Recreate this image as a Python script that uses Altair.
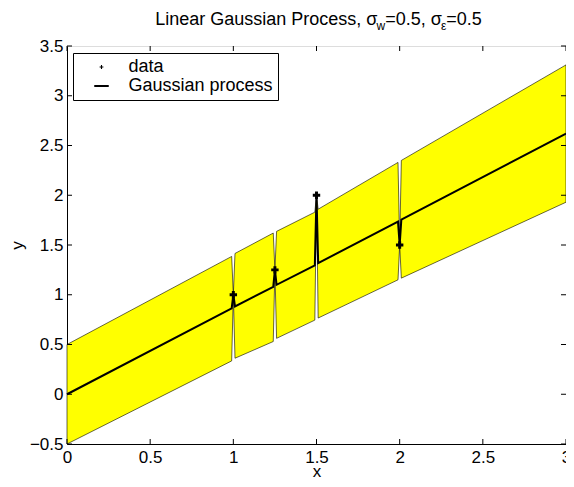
import altair as alt
import pandas as pd

# ---- data ----
band_x = [0.0, 0.99, 1.0, 1.01, 1.24, 1.25, 1.26, 1.49, 1.5, 1.51, 1.99, 2.0, 2.01, 3.0]
band_upper = [0.50, 1.385, 1.0, 1.415, 1.62, 1.25, 1.637, 1.83, 2.0, 1.86, 2.33, 1.5, 2.35, 3.31]
band_lower = [-0.50, 0.335, 1.0, 0.362, 0.53, 1.25, 0.562, 0.745, 2.0, 0.766, 1.15, 1.5, 1.167, 1.93]
gp_mean = [0.0, 0.862, 1.0, 0.882, 1.08, 1.25, 1.10, 1.295, 2.0, 1.318, 1.735, 1.5, 1.755, 2.62]
data_x = [1.0, 1.25, 1.5, 2.0]
data_y = [1.0, 1.25, 2.0, 1.5]
x_ticks = [0, 0.5, 1, 1.5, 2, 2.5, 3]
y_ticks = [-0.5, 0, 0.5, 1, 1.5, 2, 2.5, 3, 3.5]
series_names = ["data", "Gaussian process"]
title_main = "Linear Gaussian Process, σ"
title_sub1 = "w"
title_mid = "=0.5, σ"
title_sub2 = "ε"
title_end = "=0.5"

W, H = 499, 398
FONT = "Liberation Sans"
FS = 17
TFS, SFS = 18, 12

band_df = pd.DataFrame({"x": band_x, "lo": band_lower, "hi": band_upper, "mean": gp_mean,
                        "series": series_names[1]})
data_df = pd.DataFrame({"x": data_x, "y": data_y, "series": series_names[0]})
xt_df = pd.DataFrame({"v": x_ticks})
yt_df = pd.DataFrame({"v": y_ticks})

xscale = alt.Scale(domain=[0, 3], nice=False, zero=False)
yscale = alt.Scale(domain=[-0.5, 3.5], nice=False, zero=False)
cscale = alt.Scale(domain=series_names, range=["black", "black"])

common_axis = dict(grid=False, ticks=False, tickSize=0, labelFontSize=FS, labelFont=FONT,
                   labelColor="black", titleFontSize=FS, titleFont=FONT, titleFontWeight="normal",
                   titleColor="black", domainColor="black", domainWidth=1, format="~g",
                   labelFlush=False, labelOverlap=False)
xaxis = alt.Axis(values=x_ticks, labelPadding=5, titleY=19, titleBaseline="top", **common_axis)
yaxis = alt.Axis(values=y_ticks, labelPadding=4, titleX=-41, titleY=H / 2, **common_axis)

X = lambda f: alt.X(f, scale=xscale, axis=xaxis, title="x")
Y = lambda f: alt.Y(f, scale=yscale, axis=yaxis, title="y")

CROSS_PATH = "M-0.38,-0.11H0.38V0.11H-0.38Z M-0.11,-0.38H0.11V0.38H-0.11Z"
LINE_PATH = "M-1.45,0H1.45"
legend = alt.Legend(
    orient="none", legendX=6, legendY=7, title=None,
    fillColor="white", strokeColor="black",
    padding=5, symbolSize=100, symbolOffset=14.5, labelOffset=18,
    labelFontSize=18, labelFont=FONT, labelColor="black", rowPadding=1,
    symbolStrokeColor="black", symbolFillColor="black", symbolOpacity=1,
    symbolType=alt.ExprRef(expr=f"datum.value === 'data' ? '{CROSS_PATH}' : '{LINE_PATH}'"),
    symbolStrokeWidth=alt.ExprRef(expr="datum.value === 'data' ? 0 : 2"),
)
color = alt.Color("series:N", scale=cscale, legend=legend)

band = alt.Chart(band_df).mark_area(fill="#FFFF00", stroke="black", strokeWidth=0.6, opacity=1).encode(
    x=X("x:Q"), y=Y("lo:Q"), y2="hi:Q")

line = alt.Chart(band_df).mark_line(strokeWidth=2).encode(
    x=X("x:Q"), y=Y("mean:Q"), color=color)

pts = alt.Chart(data_df).mark_point(shape="cross", filled=True, size=55, opacity=1).encode(
    x=X("x:Q"), y=Y("y:Q"), color=color)

tick = dict(color="black", strokeWidth=1)
xt_b = alt.Chart(xt_df).mark_rule(**tick).encode(x=X("v:Q"), y=alt.value(H), y2=alt.value(H - 5))
xt_t = alt.Chart(xt_df).mark_rule(**tick).encode(x=X("v:Q"), y=alt.value(0), y2=alt.value(5))
yt_l = alt.Chart(yt_df).mark_rule(**tick).encode(y=Y("v:Q"), x=alt.value(0), x2=alt.value(5))
yt_r = alt.Chart(yt_df).mark_rule(**tick).encode(y=Y("v:Q"), x=alt.value(W), x2=alt.value(W - 5))

# title with subscripts, laid out from approximate glyph widths (em/1000)
cw = {"L": 556, "i": 222, "n": 556, "e": 556, "a": 556, "r": 333, " ": 278, "G": 778, "u": 556,
      "s": 500, "P": 667, "o": 556, "c": 500, ",": 278, "=": 584, "0": 556, ".": 278, "5": 556,
      "w": 722, "σ": 570, "ε": 446}
def tw(t, fs):
    return sum(cw.get(ch, 556) for ch in t) * fs / 1000.0

pieces = [(title_main, TFS, 0), (title_sub1, SFS, 5), (title_mid, TFS, 0), (title_sub2, SFS, 5), (title_end, TFS, 0)]
total = sum(tw(t, f) for t, f, _ in pieces)
x0 = W / 2 - total / 2 + 2
base_y = -21
title_layers = []
for t, f, dy in pieces:
    title_layers.append(
        alt.Chart(pd.DataFrame({"t": [t]})).mark_text(
            align="left", baseline="alphabetic", font=FONT, fontSize=f, color="black"
        ).encode(x=alt.value(x0), y=alt.value(base_y + dy), text="t:N"))
    x0 += tw(t, f)

chart = alt.layer(band, line, pts, xt_b, xt_t, yt_l, yt_r, *title_layers).properties(
    width=W, height=H,
    autosize=alt.AutoSizeParams(type="none"),
    padding={"left": 59, "top": 38, "right": 0, "bottom": 35},
).configure_view(stroke="black", strokeWidth=1).configure(background="white")

chart.save("out.html", embed_options={"renderer": "svg", "actions": False})
